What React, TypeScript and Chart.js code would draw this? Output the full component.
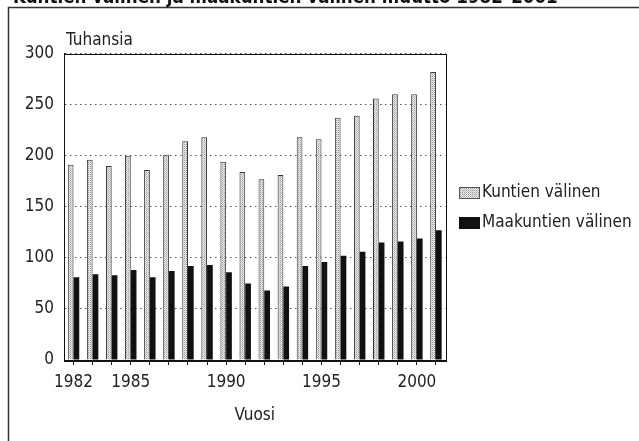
import React, { useEffect, useRef } from "react";
import { Chart, registerables } from "chart.js";

Chart.register(...registerables);

const years = ["1982","1983","1984","1985","1986","1987","1988","1989","1990","1991","1992","1993","1994","1995","1996","1997","1998","1999","2000","2001"];
const shownYears = ["1982", "1985", "1990", "1995", "2000"];
const kuntien = [191, 196, 190, 200, 186, 201, 214, 218, 194, 184, 177, 181, 218, 216, 237, 239, 256, 260, 260, 282];
const maakuntien = [81, 84, 83, 88, 81, 87, 92, 93, 86, 75, 68, 72, 92, 96, 102, 106, 115, 116, 119, 127];
const seriesNames = ["Kuntien välinen", "Maakuntien välinen"];
const titleText = "Kuntien välinen ja maakuntien välinen muutto 1982–2001";
const yTitle = "Tuhansia";
const xTitle = "Vuosi";

const FONT = "'Liberation Sans Narrow', 'Arial Narrow', 'DejaVu Sans Condensed', 'Liberation Sans', sans-serif";
const FS = 17;

function makePattern(): CanvasPattern | string {
  const c = document.createElement("canvas");
  c.width = 2;
  c.height = 2;
  const g = c.getContext("2d");
  if (!g) return "#d6d6d6";
  g.fillStyle = "#ececec";
  g.fillRect(0, 0, 2, 2);
  g.fillStyle = "#9a9a9a";
  g.fillRect(0, 0, 1, 1);
  g.fillStyle = "#c4c4c4";
  g.fillRect(1, 1, 1, 1);
  const p = g.createPattern(c, "repeat");
  return p || "#d6d6d6";
}

export default function App() {
  const ref = useRef<HTMLCanvasElement | null>(null);

  useEffect(() => {
    if (!ref.current) return;
    const pattern = makePattern();

    const decor = {
      id: "decor",
      afterDraw(chart: any) {
        const ctx = chart.ctx as CanvasRenderingContext2D;
        const a = chart.chartArea;
        ctx.save();
        // outer frame
        ctx.strokeStyle = "#333";
        ctx.lineWidth = 1.5;
        ctx.strokeRect(8.5, 7.5, 700, 500);
        // plot frame
        ctx.strokeStyle = "#111";
        ctx.lineWidth = 1;
        ctx.strokeRect(Math.round(a.left) + 0.5, Math.round(a.top) + 0.5, Math.round(a.right - a.left), Math.round(a.bottom - a.top));
        // cropped title
        ctx.fillStyle = "#111";
        let size = 19;
        ctx.font = `bold ${size}px ${FONT}`;
        const w = ctx.measureText(titleText).width;
        size = (size * 545) / w;
        ctx.font = `bold ${size}px ${FONT}`;
        ctx.textAlign = "left";
        ctx.textBaseline = "alphabetic";
        ctx.fillText(titleText, 13, 3);
        // axis titles
        ctx.font = `${FS}px ${FONT}`;
        ctx.fillStyle = "#222";
        ctx.textBaseline = "middle";
        ctx.fillText(yTitle, 66, 41);
        ctx.textAlign = "center";
        ctx.fillText(xTitle, (a.left + a.right) / 2, 416);
        // legend
        const ds = chart.data.datasets;
        const entries = [
          { y: 193, fill: ds[0].backgroundColor, stroke: "#555" },
          { y: 223, fill: ds[1].backgroundColor, stroke: "#111" },
        ];
        ctx.textAlign = "left";
        entries.forEach((e, i) => {
          ctx.fillStyle = e.fill;
          ctx.fillRect(459, e.y - 6, 21, 12);
          ctx.strokeStyle = e.stroke;
          ctx.lineWidth = 1;
          ctx.strokeRect(459.5, e.y - 5.5, 20, 11);
          ctx.fillStyle = "#222";
          ctx.fillText(ds[i].label, 482, e.y);
        });
        ctx.restore();
      },
    };

    const chart = new Chart(ref.current, {
      type: "bar",
      data: {
        labels: years,
        datasets: [
          {
            label: seriesNames[0],
            data: kuntien,
            backgroundColor: pattern as any,
            borderColor: "#333",
            borderWidth: 1,
            categoryPercentage: 0.6,
            barPercentage: 1,
          },
          {
            label: seriesNames[1],
            data: maakuntien,
            backgroundColor: "#111",
            borderColor: "#111",
            borderWidth: 0,
            categoryPercentage: 0.6,
            barPercentage: 1,
          },
        ],
      },
      options: {
        animation: false,
        responsive: false,
        devicePixelRatio: 1,
        layout: { padding: { left: 0, right: 193.5, top: 53.5, bottom: 51 } },
        plugins: {
          legend: { display: false },
          tooltip: { enabled: false },
          title: { display: false },
        },
        scales: {
          x: {
            type: "category",
            offset: true,
            afterFit: (s: any) => { s.height = 30; },
            grid: {
              offset: false,
              drawOnChartArea: false,
              drawTicks: true,
              tickLength: 5,
              color: "#111",
            },
            border: { display: true, color: "#111" },
            ticks: {
              autoSkip: false,
              maxRotation: 0,
              minRotation: 0,
              padding: 7,
              color: "#222",
              font: { size: FS, family: FONT },
              callback: function (this: any, v: any, i: number) {
                const l = years[i];
                return shownYears.includes(l) ? l : "";
              },
            },
          },
          y: {
            min: 0,
            max: 300,
            afterFit: (s: any) => { s.width = 64; },
            grid: {
              drawTicks: false,
              color: "#555",
              lineWidth: 1,
            },
            border: { display: true, color: "#111", dash: [1.5, 3.5] },
            ticks: {
              stepSize: 50,
              padding: 10,
              color: "#222",
              font: { size: FS, family: FONT },
            },
          },
        },
      },
      plugins: [decor],
    });

    return () => chart.destroy();
  }, []);

  return (
    <div style={{ position: "fixed", left: 0, top: 0, width: 639, height: 441, background: "#fff" }}>
      <canvas ref={ref} width={639} height={441} style={{ display: "block", width: 639, height: 441 }} />
    </div>
  );
}
